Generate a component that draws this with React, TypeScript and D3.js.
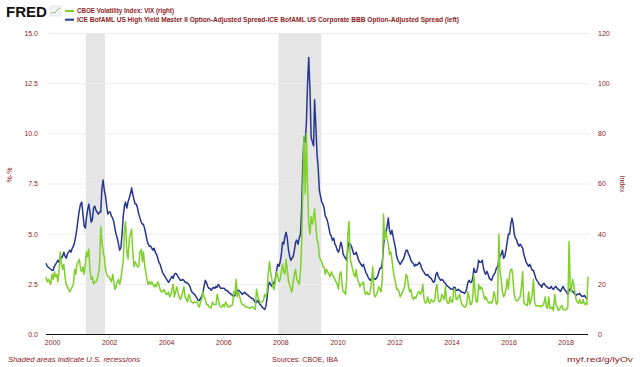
import React from "react";
import * as d3 from "d3";

// half-monthly readings (8th and 23rd of each month), Oct 1999 .. Oct 2018
const spreadDiff: number[] = [
  3.55, 3.4, 3.35, 3.3, 3.25, 3.2, // 1999 Oct-Dec
  3.2, 3.4, 3.5, 3.6, 3.7, 3.6, 3.9, 3.8, 3.9, 4.1, 3.9, 3.8, 4.0, 4.1, 4.2, 4.1, 4.3, 4.4, 4.6, 4.9, 5.3, 5.8, 6.2, 6.5, // 2000
  6.6, 6.0, 5.4, 5.3, 5.8, 6.2, 6.5, 6.1, 5.6, 5.7, 6.3, 6.4, 6.2, 6.1, 6.0, 6.1, 6.1, 7.3, 7.7, 7.2, 6.9, 6.4, 6.0, 6.1, // 2001
  6.1, 5.9, 5.8, 5.6, 5.3, 5.0, 4.8, 4.5, 4.2, 4.3, 5.0, 5.9, 6.4, 6.6, 6.3, 6.6, 6.8, 7.0, 7.3, 7.0, 6.7, 6.5, 6.5, 6.3, // 2002
  6.0, 5.8, 5.6, 5.5, 5.5, 5.3, 5.0, 4.7, 4.5, 4.4, 4.4, 4.3, 4.2, 4.3, 4.1, 4.0, 3.8, 3.6, 3.5, 3.3, 3.1, 3.0, 2.9, 2.8, // 2003
  2.7, 2.6, 2.7, 2.8, 2.9, 2.8, 3.0, 3.05, 3.0, 2.9, 2.8, 2.7, 2.7, 2.75, 2.7, 2.6, 2.6, 2.55, 2.5, 2.4, 2.2, 2.1, 2.05, 2.0, // 2004
  1.9, 1.8, 1.7, 1.7, 1.8, 1.9, 2.1, 2.4, 2.7, 2.6, 2.4, 2.3, 2.3, 2.2, 2.3, 2.35, 2.3, 2.4, 2.35, 2.5, 2.4, 2.3, 2.3, 2.3, // 2005
  2.3, 2.2, 2.2, 2.15, 2.1, 2.05, 2.0, 1.95, 1.9, 1.95, 2.1, 2.2, 2.2, 2.15, 2.1, 2.0, 2.05, 2.1, 2.05, 2.0, 1.95, 1.9, 1.85, 1.8, // 2006
  1.8, 1.7, 1.6, 1.6, 1.7, 1.6, 1.5, 1.45, 1.35, 1.3, 1.25, 1.4, 1.8, 2.4, 2.6, 2.5, 2.4, 2.6, 2.5, 2.8, 3.2, 3.5, 3.4, 3.6, // 2007
  4.0, 4.6, 4.5, 4.9, 5.1, 4.8, 4.2, 3.9, 3.7, 3.8, 3.9, 4.2, 4.6, 4.7, 4.5, 4.8, 5.0, 6.2, 8.5, 9.8, 9.6, 10.5, 12.5, 13.8, // 2008
  12.2, 9.8, 9.6, 9.4, 11.7, 10.5, 9.0, 8.3, 7.2, 6.9, 6.6, 6.5, 6.3, 5.9, 5.8, 5.6, 5.3, 5.0, 4.9, 4.7, 4.8, 4.5, 4.4, 4.2, // 2009
  4.1, 4.3, 4.6, 4.4, 4.0, 3.9, 3.8, 3.7, 4.3, 4.6, 4.5, 4.4, 4.2, 4.0, 4.0, 4.1, 3.9, 3.7, 3.6, 3.5, 3.4, 3.5, 3.3, 3.1, // 2010
  3.0, 2.85, 2.75, 2.7, 2.8, 2.85, 2.8, 2.75, 2.8, 2.9, 3.1, 3.3, 3.3, 3.6, 4.4, 5.0, 5.1, 5.4, 5.8, 5.2, 5.0, 5.2, 4.9, 4.6, // 2011
  4.3, 3.9, 3.7, 3.6, 3.5, 3.6, 3.7, 3.8, 4.0, 4.2, 4.2, 4.0, 3.9, 3.7, 3.6, 3.55, 3.4, 3.5, 3.45, 3.5, 3.6, 3.5, 3.3, 3.2, // 2012
  3.1, 3.0, 2.95, 3.0, 2.9, 2.85, 2.8, 2.7, 2.6, 2.65, 3.0, 3.1, 2.9, 2.8, 2.7, 2.75, 2.7, 2.6, 2.55, 2.45, 2.4, 2.35, 2.3, 2.25, // 2013
  2.25, 2.35, 2.35, 2.2, 2.2, 2.25, 2.2, 2.15, 2.1, 2.1, 2.05, 2.1, 2.3, 2.6, 2.7, 2.6, 2.6, 2.8, 3.3, 3.1, 3.1, 3.3, 3.7, 3.6, // 2014
  3.6, 3.7, 3.3, 3.1, 3.0, 3.15, 3.0, 2.8, 2.75, 2.7, 2.9, 3.0, 3.1, 3.3, 3.4, 3.7, 3.9, 4.0, 4.2, 3.8, 3.9, 4.2, 4.6, 5.0, // 2015
  5.0, 5.5, 5.8, 5.5, 5.0, 4.8, 4.7, 4.5, 4.4, 4.5, 4.4, 4.3, 4.0, 3.8, 3.6, 3.5, 3.4, 3.5, 3.35, 3.2, 3.2, 3.0, 2.8, 2.7, // 2016
  2.6, 2.5, 2.45, 2.35, 2.5, 2.55, 2.45, 2.4, 2.35, 2.3, 2.3, 2.4, 2.3, 2.25, 2.35, 2.4, 2.3, 2.25, 2.2, 2.15, 2.3, 2.4, 2.25, 2.2, // 2017
  2.1, 2.0, 2.2, 2.3, 2.2, 2.15, 2.1, 2.0, 1.95, 2.0, 2.0, 2.05, 1.95, 1.9, 1.9, 1.95, 1.85, 1.8, 1.8, // 2018 Jan-Oct
];

const vix: number[] = [
  23, 21, 22, 21, 20, 24, // 1999 Oct-Dec
  22, 25, 23, 24, 21, 25, 33, 28, 26, 28, 23, 20, 19, 18, 17, 18, 19, 20, 26, 24, 28, 29, 30, 26, // 2000
  25, 27, 24, 28, 33, 31, 34, 26, 22, 23, 20, 21, 21, 22, 24, 27, 43, 37, 33, 31, 26, 24, 23, 23, // 2001
  22, 21, 24, 21, 18, 19, 21, 22, 20, 22, 26, 29, 41, 45, 33, 30, 38, 40, 42, 33, 27, 29, 28, 27, // 2002
  27, 33, 34, 29, 33, 28, 25, 22, 20, 21, 20, 21, 20, 19, 20, 19, 21, 20, 18, 17, 17, 18, 17, 16, // 2003
  16, 17, 15, 16, 18, 20, 15, 17, 19, 17, 15, 14, 15, 17, 19, 15, 14, 13, 16, 15, 13, 13, 12.5, 13, // 2004
  13, 13, 11.5, 11, 13, 14, 17, 15, 14, 12, 12, 11, 11, 10.5, 13, 12, 12, 12, 16, 14, 11.5, 11, 11, 12, // 2005
  11, 13, 12, 11, 11, 11.5, 11.5, 12, 17, 16, 22, 15, 17, 15, 13, 12, 12, 11.5, 11, 11, 11, 10.5, 10.5, 11, // 2006
  11, 10.5, 10, 18, 16, 14, 13, 13, 13, 13.5, 16, 15, 17, 24, 29, 25, 22, 19, 18, 22, 25, 23, 21, 22, // 2007
  25, 28, 25, 24, 30, 26, 21, 20, 18, 17, 21, 24, 26, 22, 21, 20, 25, 36, 57, 79, 56, 80, 59, 44, // 2008
  40, 47, 44, 47, 50, 43, 38, 36, 31, 30, 29, 27, 27, 24, 26, 25, 24, 23, 25, 24, 23, 22, 21, 20, // 2009
  18, 24, 25, 20, 17, 17, 16, 22, 40, 45, 30, 28, 26, 24, 23, 26, 22, 21, 19, 20, 20, 21, 17, 16, // 2010
  17, 16, 16, 18, 21, 27, 16, 15, 16, 17, 19, 18, 17, 22, 48, 38, 41, 38, 36, 32, 33, 30, 26, 23, // 2011
  21, 18, 18, 17, 15, 16, 17, 18, 20, 24, 23, 19, 17, 18, 15, 14, 15, 14.5, 15.5, 17, 17, 16, 17, 20, // 2012
  14, 12.5, 13, 15, 13, 12.5, 14, 13.5, 13, 13.5, 18, 20, 14, 13, 13.5, 16, 15, 14, 19, 13.5, 12.5, 12.5, 15, 13, // 2013
  13, 18, 18, 14, 14, 15, 16, 13.5, 12, 11.5, 11, 11, 12, 17, 15, 12, 12, 14.5, 24, 17, 13, 13, 20, 18, // 2014
  19, 18, 16, 14, 15, 14, 13, 12.5, 13, 12.5, 14, 17, 15, 12, 13, 40, 25, 22, 17, 15, 16, 18, 22, 18, // 2015
  24, 26, 26, 21, 16, 14, 13.5, 13.5, 14.5, 15, 19, 25, 13, 12, 12, 11.5, 17, 12, 13.5, 16, 22, 13, 11.5, 11.5, // 2016
  11.5, 11.5, 11, 11.5, 11.5, 12.5, 15, 11, 10.5, 15, 10.5, 10.5, 11, 9.5, 16, 12, 11, 9.6, 10, 11, 11.5, 9.8, 10, 9.8, // 2017
  10, 11, 37, 19, 17, 22, 20, 17, 14, 13, 12.5, 14, 12.5, 12.5, 14, 12, 12.5, 12, 23, // 2018 Jan-Oct
];

const recessions: [string, string][] = [
  ["2001-03-01", "2001-11-01"],
  ["2007-12-01", "2009-06-01"],
];

const yearTicks = [2000, 2002, 2004, 2006, 2008, 2010, 2012, 2014, 2016, 2018];
const leftTicks = [0, 2.5, 5, 7.5, 10, 12.5, 15];
const rightTicks = [0, 20, 40, 60, 80, 100, 120];

const legendLabels = [
  "CBOE Volatility Index: VIX (right)",
  "ICE BofAML US High Yield Master II Option-Adjusted Spread-ICE BofAML US Corporate BBB Option-Adjusted Spread (left)",
];

const RED = "#8c1b1b";
const GREEN = "#7fd02a";
const BLUE = "#26368f";
const FONT = "'Liberation Sans', Arial, sans-serif";

// date of the k-th half-monthly reading, starting Oct 1999
const dateAt = (k: number) => {
  const tm = 9 + Math.floor(k / 2);
  return new Date(1999 + Math.floor(tm / 12), tm % 12, k % 2 ? 23 : 8);
};

export default function App() {
  const width = 640;
  const height = 367;

  const x = d3
    .scaleTime()
    .domain([new Date(1999, 9, 8), new Date(2018, 9, 8)])
    .range([46, 588]);
  const yLeft = d3.scaleLinear().domain([0, 15]).range([334.5, 33.5]);
  const yRight = d3.scaleLinear().domain([0, 120]).range([334.5, 33.5]);

  const blueLine = d3
    .line<number>()
    .x((_, i) => x(dateAt(i)))
    .y((d) => yLeft(d));
  const greenLine = d3
    .line<number>()
    .x((_, i) => x(dateAt(i)))
    .y((d) => yRight(d));

  return (
    <svg
      width={width}
      height={height}
      style={{ position: "absolute", left: 0, top: 0, background: "#fff" }}
      fontFamily={FONT}
    >
      {/* FRED logo */}
      <text x={6} y={17} fontSize={15} fontWeight="bold" fill="#111" textLength={41} lengthAdjust="spacingAndGlyphs">
        FRED
      </text>
      <g transform="translate(50,6)">
        <rect x={0} y={0} width={11} height={10} fill="#f4f4f4" stroke="#d8d8d8" strokeWidth={0.6} />
        <polyline points="1,8 3,6 5,7 7,4 10,2" fill="none" stroke="#9bbf7a" strokeWidth={1} />
      </g>

      {/* legend */}
      {legendLabels.map((label, i) => (
        <g key={label}>
          <line x1={65} x2={74} y1={11 + i * 8.7} y2={11 + i * 8.7} stroke={i === 0 ? GREEN : BLUE} strokeWidth={2} />
          <text
            x={77}
            y={13.3 + i * 8.7}
            fontSize={7}
            fontWeight="bold"
            fill={RED}
            textLength={i === 0 ? 97 : 382}
            lengthAdjust="spacingAndGlyphs"
          >
            {label}
          </text>
        </g>
      ))}

      {/* recession shading */}
      {recessions.map(([a, b]) => (
        <rect
          key={a}
          x={x(new Date(a))}
          y={yLeft(15)}
          width={x(new Date(b)) - x(new Date(a))}
          height={yLeft(0) - yLeft(15)}
          fill="#e5e5e5"
        />
      ))}

      {/* grid */}
      {leftTicks.slice(1).map((t) => (
        <line key={t} x1={47} x2={590} y1={yLeft(t)} y2={yLeft(t)} stroke="#ececec" strokeWidth={1} />
      ))}

      {/* left axis labels */}
      {leftTicks.map((t) => (
        <text key={t} x={38} y={yLeft(t) + 2.4} fontSize={7} fill={RED} textAnchor="end">
          {t.toFixed(1)}
        </text>
      ))}
      {/* right axis labels */}
      {rightTicks.map((t) => (
        <text key={t} x={598} y={yRight(t) + 2.4} fontSize={7} fill={RED} textAnchor="start">
          {t}
        </text>
      ))}

      {/* axis titles */}
      <text transform="translate(12,175) rotate(-90)" fontSize={7} fill={RED} textAnchor="middle">
        %-%
      </text>
      <text transform="translate(620,184) rotate(90)" fontSize={7} fill={RED} textAnchor="middle">
        Index
      </text>

      {/* series */}
      <path d={blueLine(spreadDiff) || ""} fill="none" stroke={BLUE} strokeWidth={1.5} strokeLinejoin="round" />
      <path d={greenLine(vix) || ""} fill="none" stroke={GREEN} strokeWidth={1.5} strokeLinejoin="round" />

      {/* baseline and x axis */}
      <line x1={46} x2={588} y1={yLeft(0)} y2={yLeft(0)} stroke="#111" strokeWidth={1} />
      {yearTicks.map((yr) => {
        const xp = x(new Date(yr, 0, 1));
        return (
          <g key={yr}>
            <line x1={xp} x2={xp} y1={335.5} y2={339.5} stroke="#c6d2e2" strokeWidth={1} />
            <text x={xp} y={344.5} fontSize={7} fill={RED} textAnchor="middle">
              {yr}
            </text>
          </g>
        );
      })}

      {/* footer */}
      <text x={8} y={362} fontSize={7} fontStyle="italic" fill={RED} textLength={132} lengthAdjust="spacingAndGlyphs">
        Shaded areas indicate U.S. recessions
      </text>
      <text x={272} y={362} fontSize={7} fill={RED} textLength={66} lengthAdjust="spacingAndGlyphs">
        Sources: CBOE, IBA
      </text>
      <text x={567} y={362} fontSize={7} fill={RED} textLength={66} lengthAdjust="spacingAndGlyphs">
        myf.red/g/lyOv
      </text>
    </svg>
  );
}
